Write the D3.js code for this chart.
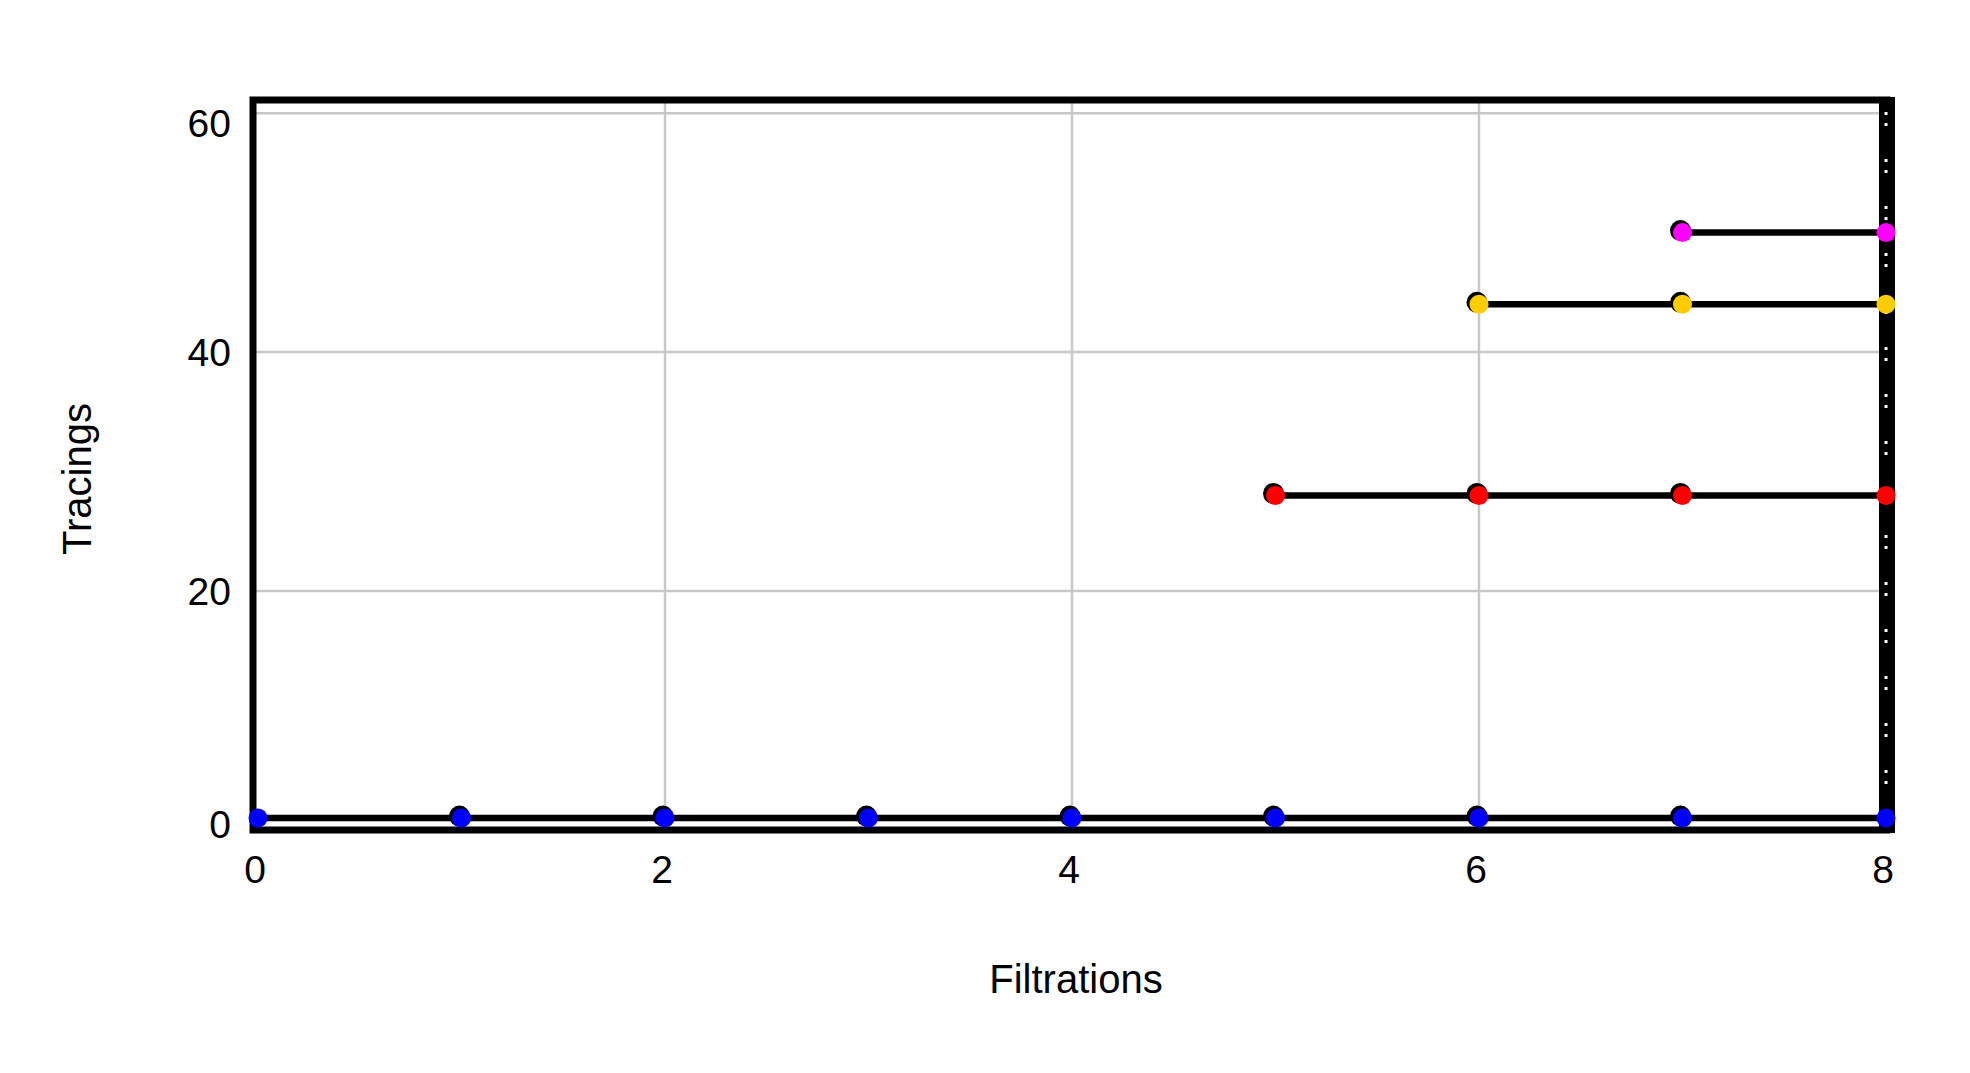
<!DOCTYPE html>
<html>
<head>
<meta charset="utf-8">
<script src="https://cdn.jsdelivr.net/npm/d3@7/dist/d3.min.js"></script>
<style>
  html, body { margin: 0; padding: 0; background: #fff; }
  svg { display: block; font-family: "Liberation Sans", Arial, sans-serif; }
</style>
</head>
<body>
<div id="chart"></div>
<script>
// values
const xTicks = [0, 2, 4, 6, 8];
const yTicks = [0, 20, 40, 60];
const blueX = [0, 1, 2, 3, 4, 5, 6, 7, 8];
const blueY = [1, 1, 1, 1, 1, 1, 1, 1, 1];
const redX = [5, 6, 7, 8];
const redY = [28, 28, 28, 28];
const yellowX = [6, 7, 8];
const yellowY = [44, 44, 44];
const magentaX = [7, 8];
const magentaY = [50, 50];

const series = [
  { name: 'blue', color: '#0000ff', xs: blueX, ys: blueY },
  { name: 'red', color: '#ff0000', xs: redX, ys: redY },
  { name: 'yellow', color: '#ffcc00', xs: yellowX, ys: yellowY },
  { name: 'magenta', color: '#ff00ff', xs: magentaX, ys: magentaY }
];

const width = 1970;
const height = 1073;
const frame = { left: 253, right: 1887, top: 100, bottom: 830 };

const x = d3.scaleLinear().domain([0, 8]).range([258, 1886]);
const y = d3.scaleLinear().domain([0, 61.1]).range([frame.bottom, frame.top]);

const svg = d3.select('#chart')
  .append('svg')
  .attr('width', width)
  .attr('height', height);

// grid
svg.append('g')
  .selectAll('line')
  .data(xTicks.filter(t => t > 0 && t < 8))
  .join('line')
  .attr('x1', d => x(d)).attr('x2', d => x(d))
  .attr('y1', frame.top).attr('y2', frame.bottom)
  .attr('stroke', '#c8c8c8')
  .attr('stroke-width', 2.5);

svg.append('g')
  .selectAll('line')
  .data(yTicks.filter(t => t > 0))
  .join('line')
  .attr('x1', frame.left).attr('x2', frame.right)
  .attr('y1', d => y(d)).attr('y2', d => y(d))
  .attr('stroke', '#c8c8c8')
  .attr('stroke-width', 2.5);

// frame
svg.append('rect')
  .attr('x', frame.left)
  .attr('y', frame.top)
  .attr('width', frame.right - frame.left)
  .attr('height', frame.bottom - frame.top)
  .attr('fill', 'none')
  .attr('stroke', '#000')
  .attr('stroke-width', 7);

// thick dotted marker at the last filtration
svg.append('rect')
  .attr('x', x(8) - 7)
  .attr('y', frame.top - 3)
  .attr('width', 16)
  .attr('height', frame.bottom - frame.top + 6)
  .attr('fill', '#000');

svg.append('line')
  .attr('x1', x(8)).attr('x2', x(8))
  .attr('y1', frame.top + 12).attr('y2', frame.bottom - 6)
  .attr('stroke', '#fff')
  .attr('stroke-width', 3)
  .attr('stroke-dasharray', '3,8,3,33');

// series lines
const line = d3.line().x(d => x(d[0])).y(d => y(d[1]));

svg.append('g')
  .selectAll('path')
  .data(series)
  .join('path')
  .attr('d', s => line(s.xs.map((v, i) => [v, s.ys[i]])))
  .attr('fill', 'none')
  .attr('stroke', '#000')
  .attr('stroke-width', 6.5);

// points: black rim offset behind a coloured dot
const points = series.flatMap(s => s.xs.map((v, i) => ({ x: v, y: s.ys[i], color: s.color })));

svg.append('g')
  .selectAll('circle')
  .data(points.filter(p => p.x > 0 && p.x < 8))
  .join('circle')
  .attr('cx', d => x(d.x) - 2)
  .attr('cy', d => y(d.y) - 2)
  .attr('r', 10.5)
  .attr('fill', '#000');

svg.append('g')
  .selectAll('circle')
  .data(points)
  .join('circle')
  .attr('cx', d => x(d.x))
  .attr('cy', d => y(d.y))
  .attr('r', 9.5)
  .attr('fill', d => d.color);

// tick labels
svg.append('g')
  .selectAll('text')
  .data(xTicks)
  .join('text')
  .attr('x', d => x(d) - 3)
  .attr('y', 883)
  .attr('text-anchor', 'middle')
  .attr('font-size', 39)
  .attr('fill', '#000')
  .text(d => d);

svg.append('g')
  .selectAll('text')
  .data(yTicks)
  .join('text')
  .attr('x', 231)
  .attr('y', d => y(d))
  .attr('dy', d => d === 60 ? '0.6em' : d === 0 ? '0.2em' : '0.36em')
  .attr('text-anchor', 'end')
  .attr('font-size', 39)
  .attr('fill', '#000')
  .text(d => d);

// axis titles
svg.append('text')
  .attr('x', 1076)
  .attr('y', 993)
  .attr('text-anchor', 'middle')
  .attr('font-size', 40)
  .attr('fill', '#000')
  .text('Filtrations');

svg.append('text')
  .attr('transform', 'translate(91,479) rotate(-90)')
  .attr('text-anchor', 'middle')
  .attr('font-size', 40)
  .attr('fill', '#000')
  .text('Tracings');
</script>
</body>
</html>
